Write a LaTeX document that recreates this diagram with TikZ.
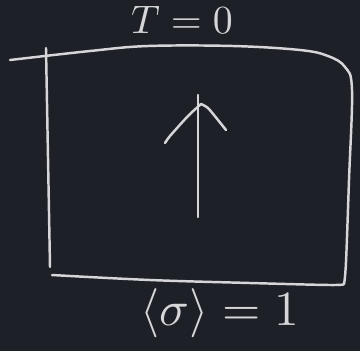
\documentclass[tikz,border=0pt]{standalone}
\usepackage{amsmath, amssymb}
\usepackage{xcolor}
\usepackage{tikz}
\usetikzlibrary{arrows.meta, calc}

\definecolor{lavagna}{RGB}{30,32,40}
\definecolor{gesso}{RGB}{214,214,216}

\tikzset{
    gessetto/.style={draw=gesso, line width=2.1pt, line cap=round, line join=round},
    scritta/.style={text=gesso, inner sep=0pt}
}

\begin{document}
\begin{tikzpicture}[x=0.03cm, y=-0.03cm]
    % La lavagna
    \fill[lavagna] (0,0) rectangle (360,351);
    \useasboundingbox (0,0) rectangle (360,351);

    % Il bordo della scatola
    \draw[gessetto] plot [smooth, tension=0.6] coordinates {(10,60) (90,51) (148,46) (233,46) (300,50) (328,56) (345,67) (352,90) (349,180) (346,262) (344,284)};
    \draw[gessetto] plot [smooth, tension=0.6] coordinates {(344,284) (330,285) (250,283) (150,280) (52,275)};
    \draw[gessetto] (46,48) -- (50,267);

    % La freccia (spin)
    \draw[gessetto] (198,95) -- (198,217);
    \draw[gessetto] plot [smooth, tension=0.4] coordinates {(165,143) (170,136) (188,116) (201,104)};
    \draw[gessetto] plot [smooth, tension=0.4] coordinates {(201,104) (208,108) (218,120) (226,130)};

    % Le scritte
    \node[scritta, scale=3.4, anchor=base] (tempo) at (182,33) {$T=0$};
    \node[scritta, scale=4.2] (media) at (220,313) {$\langle\sigma\rangle = 1$};

\end{tikzpicture}
\end{document}
